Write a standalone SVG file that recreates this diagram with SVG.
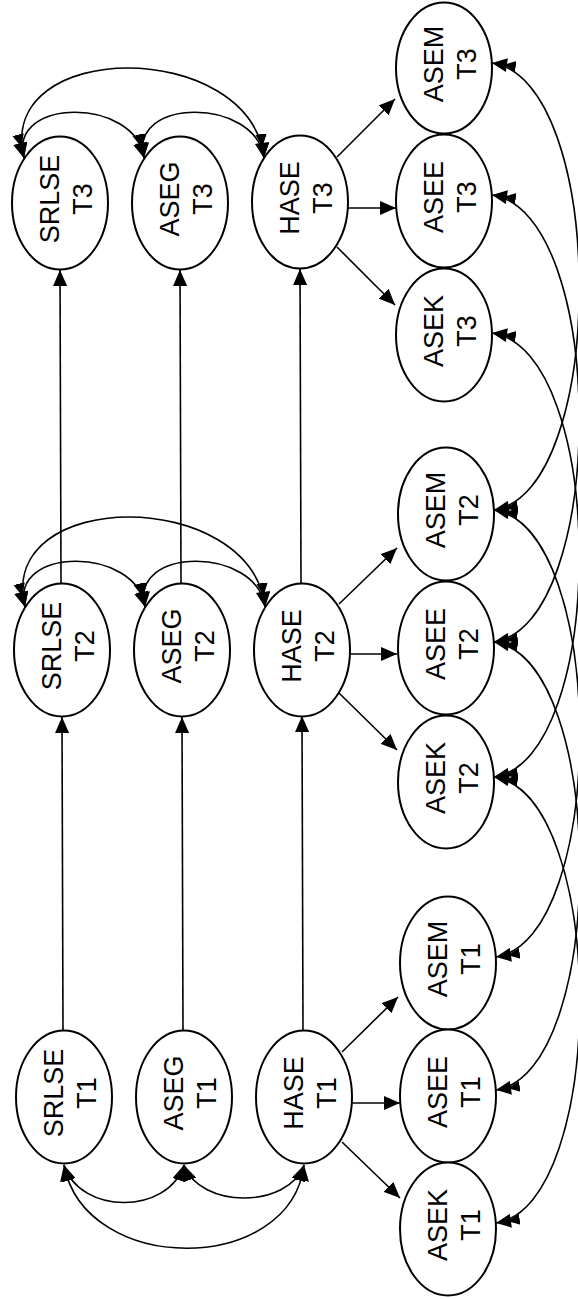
<svg xmlns="http://www.w3.org/2000/svg" width="578" height="1299" viewBox="0 0 578 1299">
<style>
.node ellipse{fill:#fff;stroke:#000;stroke-width:2}
.node text{font-family:"Liberation Sans",Arial,sans-serif;font-size:27px;text-anchor:middle;fill:#000}
#connectors path{fill:none;stroke:#000;stroke-width:1.6}
.a{marker-end:url(#arr)}
.b{marker-start:url(#arr);marker-end:url(#arr)}
.d{marker-start:url(#dbl);marker-end:url(#dbl)}
</style>
<defs>
<marker id="arr" markerUnits="userSpaceOnUse" orient="auto-start-reverse" viewBox="0 0 16 14" refX="16" refY="7" markerWidth="16" markerHeight="14">
<path d="M16,7 L0,0 L0,14 Z" fill="#000"/>
</marker>
<marker id="dbl" markerUnits="userSpaceOnUse" orient="auto-start-reverse" viewBox="0 0 24 14" refX="24" refY="7" markerWidth="24" markerHeight="14">
<path d="M24,7 L9,0 L9,14 Z M12,7 L0,1.5 L0,12.5 Z" fill="#000"/>
</marker>
</defs>
<rect width="578" height="1299" fill="#fff"/>
<g id="connectors">
<path class="a" d="M63,1031 L62,717"/>
<path class="a" d="M61,583 L60,270"/>
<path class="a" d="M183,1031 L182,717"/>
<path class="a" d="M181,583 L180,270"/>
<path class="a" d="M303,1030 L302,716"/>
<path class="a" d="M301,583 L300,269"/>
<path class="a" d="M337,157 L395,99"/>
<path class="a" d="M348,208 L396,208"/>
<path class="a" d="M337,247 L395,305"/>
<path class="a" d="M339,604 L397,548"/>
<path class="a" d="M350,654 L397,654"/>
<path class="a" d="M339,693 L397,750"/>
<path class="a" d="M342,1052 L398,997"/>
<path class="a" d="M352,1103 L400,1103"/>
<path class="a" d="M342,1142 L400,1198"/>
<path class="d" d="M24,158 C8,97 136,97 144,158"/>
<path class="d" d="M144,158 C128,97 256,97 264,158"/>
<path class="d" d="M24,158 C-5,38 250,38 264,158"/>
<path class="d" d="M25,607 C9,546 137,546 145,607"/>
<path class="d" d="M145,607 C129,546 257,546 265,607"/>
<path class="d" d="M25,607 C-4,487 251,487 265,607"/>
<path class="b" d="M64,1165 C80,1215 168,1215 184,1165"/>
<path class="b" d="M184,1165 C200,1209 288,1209 304,1165"/>
<path class="b" d="M64,1165 C85,1276 290,1276 304,1165"/>
<path class="d" d="M492,63 C608,80 608,493 494,510"/>
<path class="d" d="M492,195 C608,212 608,625 494,642"/>
<path class="d" d="M492,333 C608,350 608,760 494,777"/>
<path class="d" d="M494,510 C608,527 608,940 496,957"/>
<path class="d" d="M494,642 C608,659 608,1073 496,1090"/>
<path class="d" d="M494,777 C608,794 608,1206 496,1223"/>
</g>
<g id="srlse-t3" class="node"><ellipse cx="60" cy="203" rx="48" ry="66.5"/><text transform="translate(60 203) rotate(-90)"><tspan x="4" y="-1">SRLSE</tspan><tspan x="4" y="32">T3</tspan></text></g>
<g id="aseg-t3" class="node"><ellipse cx="180" cy="203" rx="48" ry="66.5"/><text transform="translate(180 203) rotate(-90)"><tspan x="4" y="-1">ASEG</tspan><tspan x="4" y="32">T3</tspan></text></g>
<g id="hase-t3" class="node"><ellipse cx="300" cy="202" rx="48" ry="66.5"/><text transform="translate(300 202) rotate(-90)"><tspan x="4" y="-1">HASE</tspan><tspan x="4" y="32">T3</tspan></text></g>
<g id="asem-t3" class="node"><ellipse cx="444" cy="68" rx="48" ry="65.5"/><text transform="translate(444 68) rotate(-90)"><tspan x="4" y="-1">ASEM</tspan><tspan x="4" y="32">T3</tspan></text></g>
<g id="asee-t3" class="node"><ellipse cx="444" cy="201" rx="48" ry="66.5"/><text transform="translate(444 201) rotate(-90)"><tspan x="4" y="-1">ASEE</tspan><tspan x="4" y="32">T3</tspan></text></g>
<g id="asek-t3" class="node"><ellipse cx="444" cy="335" rx="48" ry="66.5"/><text transform="translate(444 335) rotate(-90)"><tspan x="4" y="-1">ASEK</tspan><tspan x="4" y="32">T3</tspan></text></g>
<g id="srlse-t2" class="node"><ellipse cx="62" cy="650" rx="48" ry="66.5"/><text transform="translate(62 650) rotate(-90)"><tspan x="4" y="-1">SRLSE</tspan><tspan x="4" y="32">T2</tspan></text></g>
<g id="aseg-t2" class="node"><ellipse cx="182" cy="650" rx="48" ry="66.5"/><text transform="translate(182 650) rotate(-90)"><tspan x="4" y="-1">ASEG</tspan><tspan x="4" y="32">T2</tspan></text></g>
<g id="hase-t2" class="node"><ellipse cx="302" cy="650" rx="48" ry="66.5"/><text transform="translate(302 650) rotate(-90)"><tspan x="4" y="-1">HASE</tspan><tspan x="4" y="32">T2</tspan></text></g>
<g id="asem-t2" class="node"><ellipse cx="446" cy="514" rx="48" ry="66.5"/><text transform="translate(446 514) rotate(-90)"><tspan x="4" y="-1">ASEM</tspan><tspan x="4" y="32">T2</tspan></text></g>
<g id="asee-t2" class="node"><ellipse cx="446" cy="648" rx="48" ry="66.5"/><text transform="translate(446 648) rotate(-90)"><tspan x="4" y="-1">ASEE</tspan><tspan x="4" y="32">T2</tspan></text></g>
<g id="asek-t2" class="node"><ellipse cx="446" cy="782" rx="48" ry="66.5"/><text transform="translate(446 782) rotate(-90)"><tspan x="4" y="-1">ASEK</tspan><tspan x="4" y="32">T2</tspan></text></g>
<g id="srlse-t1" class="node"><ellipse cx="64" cy="1097" rx="48" ry="66.5"/><text transform="translate(64 1097) rotate(-90)"><tspan x="4" y="-1">SRLSE</tspan><tspan x="4" y="32">T1</tspan></text></g>
<g id="aseg-t1" class="node"><ellipse cx="184" cy="1097" rx="48" ry="66.5"/><text transform="translate(184 1097) rotate(-90)"><tspan x="4" y="-1">ASEG</tspan><tspan x="4" y="32">T1</tspan></text></g>
<g id="hase-t1" class="node"><ellipse cx="304" cy="1097" rx="48" ry="66.5"/><text transform="translate(304 1097) rotate(-90)"><tspan x="4" y="-1">HASE</tspan><tspan x="4" y="32">T1</tspan></text></g>
<g id="asem-t1" class="node"><ellipse cx="448" cy="963" rx="48" ry="66.5"/><text transform="translate(448 963) rotate(-90)"><tspan x="4" y="-1">ASEM</tspan><tspan x="4" y="32">T1</tspan></text></g>
<g id="asee-t1" class="node"><ellipse cx="448" cy="1096" rx="48" ry="66.5"/><text transform="translate(448 1096) rotate(-90)"><tspan x="4" y="-1">ASEE</tspan><tspan x="4" y="32">T1</tspan></text></g>
<g id="asek-t1" class="node"><ellipse cx="448" cy="1229" rx="48" ry="66.5"/><text transform="translate(448 1229) rotate(-90)"><tspan x="4" y="-1">ASEK</tspan><tspan x="4" y="32">T1</tspan></text></g>
</svg>
